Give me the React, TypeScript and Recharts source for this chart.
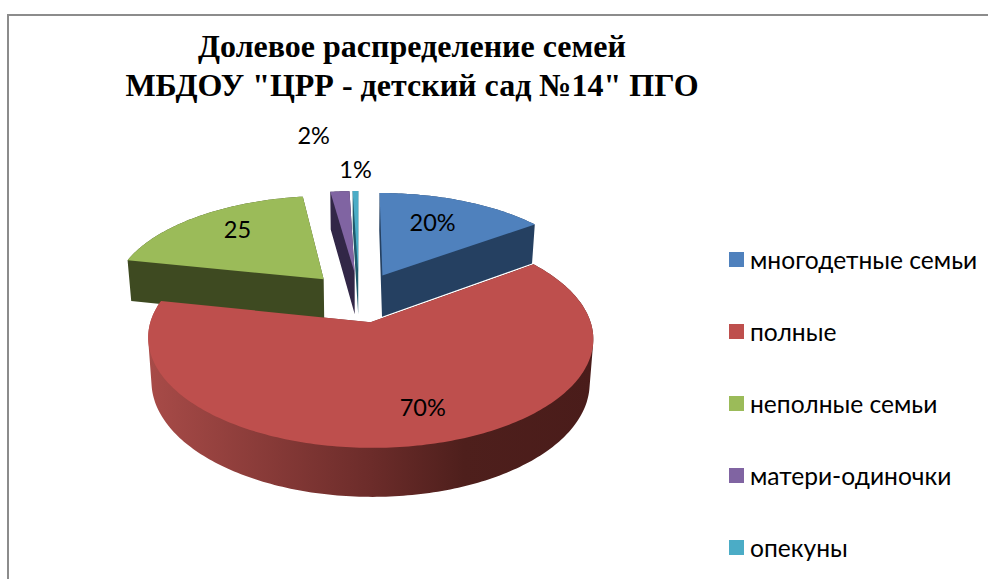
import React from "react";
import { PieChart, Pie, Legend } from "recharts";

const categories = ["многодетные семьи", "полные", "неполные семьи", "матери-одиночки", "опекуны"];
const shares = [15, 63.3, 19.5, 1.7, 0.5];
const sliceLabels = ["20%", "70%", "25", "2%", "1%"];
const topColors = ["#4F81BD", "#BE4F4D", "#9BBB59", "#8064A2", "#4BACC6"];
const wallColors = ["#254061", "url(#redWall)", "#3E4A21", "#322747", "#1F5A6B"];
// label placement relative to a slice: distance from its apex (in radii), angle nudge in degrees
const labelRadii = [0.675, 0.74, 0.735, 1.87, 1.32];
const labelNudges = [3.0, 4.2, -4.0, 3.0, -0.2];

const data = categories.map((name, i) => ({
  name,
  value: shares[i],
  fill: topColors[i],
  wall: wallColors[i],
}));

// fake 3D pie: a perspective projection of the flat pie recharts lays out
const CX = 359;
const CY = 297;
const RADIUS = 212.5;
const SQUASH = 99.8;
const PERSPECTIVE = 0.142;
const EXPLODE = 0.25;
const DEPTH = 43;
const LOWER_SHRINK = 1.016;

const rad = (deg: number) => (deg * Math.PI) / 180;

function project(u: number, v: number, lower = false) {
  const w = (1 - PERSPECTIVE * v) * (lower ? LOWER_SHRINK : 1);
  return {
    x: CX + (RADIUS * u) / w,
    y: CY + (SQUASH * v + (lower ? DEPTH : 0)) / w,
  };
}

// outline in flat pie units: apex, then arc samples
function sliceOutline(startAngle: number, endAngle: number) {
  const mid = rad((startAngle + endAngle) / 2);
  const ox = EXPLODE * Math.cos(mid);
  const oy = -EXPLODE * Math.sin(mid);
  const steps = Math.max(2, Math.ceil(Math.abs(endAngle - startAngle)));
  const pts = [{ u: ox, v: oy }];
  for (let i = 0; i <= steps; i++) {
    const a = rad(startAngle + ((endAngle - startAngle) * i) / steps);
    pts.push({ u: ox + Math.cos(a), v: oy - Math.sin(a) });
  }
  return pts;
}

function polygon(points: { x: number; y: number }[]) {
  let area = 0;
  points.forEach((p, i) => {
    const q = points[(i + 1) % points.length];
    area += p.x * q.y - q.x * p.y;
  });
  const ordered = area < 0 ? [...points].reverse() : points;
  return "M" + ordered.map((p) => `${p.x.toFixed(2)},${p.y.toFixed(2)}`).join("L") + "Z";
}

function TopShape(props: any) {
  const pts = sliceOutline(props.startAngle, props.endAngle).map((p) => project(p.u, p.v));
  return <path d={polygon(pts)} fill={props.fill} />;
}

function WallShape(props: any) {
  const pts = sliceOutline(props.startAngle, props.endAngle);
  const ring = [...pts, pts[0]];
  let d = polygon(pts.map((p) => project(p.u, p.v, true)));
  for (let i = 0; i < ring.length - 1; i++) {
    const a = ring[i];
    const b = ring[i + 1];
    d += polygon([
      project(a.u, a.v),
      project(b.u, b.v),
      project(b.u, b.v, true),
      project(a.u, a.v, true),
    ]);
  }
  return <path d={d} fill={props.payload?.wall ?? props.wall} />;
}

function sliceLabel(props: any) {
  const i = props.index;
  const mid = rad(props.midAngle);
  const ox = EXPLODE * Math.cos(mid);
  const oy = -EXPLODE * Math.sin(mid);
  const a = rad(props.midAngle + labelNudges[i]);
  const p = project(ox + labelRadii[i] * Math.cos(a), oy - labelRadii[i] * Math.sin(a));
  return (
    <text
      key={i}
      x={p.x}
      y={p.y}
      textAnchor="middle"
      dominantBaseline="central"
      fontFamily="Lato, 'Open Sans', sans-serif"
      fontSize={23.5}
      fill="#000"
    >
      {sliceLabels[i]}
    </text>
  );
}

function LegendList({ payload }: any) {
  const items = (payload ?? []).filter((item: any) => item.type !== "none");
  return (
    <ul style={{ listStyle: "none", margin: 0, padding: 0 }}>
      {items.map((item: any) => (
        <li key={item.value} style={{ height: 72.2, display: "flex", alignItems: "center" }}>
          <span style={{ width: 15, height: 15, background: item.color, marginRight: 6, flex: "none" }} />
          <span style={{ fontFamily: "Lato, 'Open Sans', sans-serif", fontSize: 24.6, color: "#000", whiteSpace: "nowrap" }}>
            {item.value}
          </span>
        </li>
      ))}
    </ul>
  );
}

export default function App() {
  return (
    <div style={{ position: "absolute", left: 0, top: 0, width: 988, height: 579, overflow: "hidden", background: "#fff" }}>
      <div style={{ position: "absolute", left: 7, top: 14, width: 990, height: 580, borderLeft: "2px solid #8c8c8c", borderTop: "2px solid #8c8c8c" }} />
      <div style={{ position: "absolute", left: 0, top: 0 }}>
        <PieChart width={988} height={579} margin={{ top: 0, right: 0, bottom: 0, left: 0 }}>
          <defs>
            <linearGradient id="redWall" x1="0" y1="0" x2="1" y2="0">
              <stop offset="0" stopColor="#A84B48" />
              <stop offset="0.5" stopColor="#6C2C2A" />
              <stop offset="0.71" stopColor="#4E1F1C" />
              <stop offset="1" stopColor="#4A1C1A" />
            </linearGradient>
          </defs>
          <text x={412} y={57} textAnchor="middle" fontFamily="'Liberation Serif', serif" fontWeight="bold" fontSize={32} fill="#000">
            Долевое распределение семей
          </text>
          <text x={412} y={96} textAnchor="middle" fontFamily="'Liberation Serif', serif" fontWeight="bold" fontSize={32} fill="#000">
            МБДОУ "ЦРР - детский сад №14" ПГО
          </text>
          <Pie
            data={data}
            dataKey="value"
            nameKey="name"
            cx={CX}
            cy={CY}
            outerRadius={RADIUS}
            startAngle={90}
            endAngle={-270}
            paddingAngle={0}
            stroke="none"
            legendType="none"
            shape={WallShape}
            isAnimationActive={false}
          />
          <Pie
            data={data}
            dataKey="value"
            nameKey="name"
            cx={CX}
            cy={CY}
            outerRadius={RADIUS}
            startAngle={90}
            endAngle={-270}
            paddingAngle={0}
            stroke="none"
            legendType="square"
            shape={TopShape}
            label={sliceLabel}
            labelLine={false}
            isAnimationActive={false}
          />
          <Legend
            layout="vertical"
            content={LegendList}
            itemSorter={null}
            wrapperStyle={{ left: 729, top: 223, width: 259, right: "auto", bottom: "auto" }}
          />
        </PieChart>
      </div>
    </div>
  );
}
